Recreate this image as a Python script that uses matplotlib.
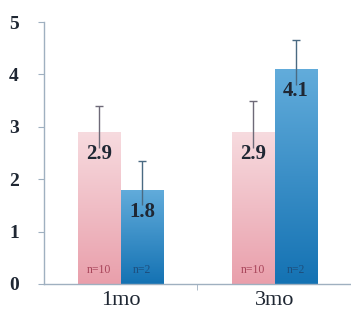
import numpy as np
import matplotlib
matplotlib.use("Agg")
import matplotlib.pyplot as plt
from matplotlib.colors import LinearSegmentedColormap

# Data
groups = ["1mo", "3mo"]
pink_vals = [2.9, 2.9]
blue_vals = [1.8, 4.1]
pink_err = [0.5, 0.6]
blue_err = [0.55, 0.55]
pink_n = ["n=10", "n=10"]
blue_n = ["n=2", "n=2"]
yticks = [0, 1, 2, 3, 4, 5]

plt.rcParams["font.family"] = ["Liberation Serif", "DejaVu Serif"]
text_col = "#1f2733"
spine_col = "#9fb0c0"

fig = plt.figure(figsize=(3.51, 3.29), dpi=100)
ax = fig.add_axes([0.125, 0.137, 0.875, 0.796])

x = np.arange(len(groups))
w = 0.275

pink_cmap = LinearSegmentedColormap.from_list("pk", ["#f7dbdf", "#e99fab"])
blue_cmap = LinearSegmentedColormap.from_list("bl", ["#62acdb", "#1472b3"])

bp = ax.bar(x - w / 2 - 0.003, pink_vals, w, color="#f0c0c7", zorder=2)
bb = ax.bar(x + w / 2 + 0.003, blue_vals, w, color="#3f93cc", zorder=2)

grad = np.linspace(0, 1, 256).reshape(-1, 1)
for bars, cmap in ((bp, pink_cmap), (bb, blue_cmap)):
    for b in bars:
        bx, by = b.get_x(), b.get_y()
        bw, bh = b.get_width(), b.get_height()
        im = ax.imshow(grad, cmap=cmap, aspect="auto", origin="upper",
                       extent=(bx, bx + bw, by, by + bh), zorder=2.5)
        im.set_clip_path(b)

# error bars: stem runs from inside the bar up to a capped top
for bars, vals, errs, ec in ((bp, pink_vals, pink_err, "#6e6a78"),
                              (bb, blue_vals, blue_err, "#4a6a82")):
    for b, v, e in zip(bars, vals, errs):
        cx = b.get_x() + b.get_width() / 2
        ax.vlines(cx, v - 0.3, v + e, color=ec, lw=1.0, zorder=4)
        ax.plot([cx], [v + e], marker="_", ms=6, mew=1.0, color=ec, zorder=4)

# value labels and sample sizes
for bars, vals, ns, ncol in ((bp, pink_vals, pink_n, "#a8455a"),
                              (bb, blue_vals, blue_n, "#1d4f7e")):
    for b, v, n in zip(bars, vals, ns):
        cx = b.get_x() + b.get_width() / 2
        ax.text(cx, v - 0.42, f"{v:.1f}", ha="center", va="center",
                fontsize=15, color=text_col, fontweight="bold", zorder=5)
        ax.text(cx, 0.27, n, ha="center", va="center", fontsize=8.5,
                color=ncol, zorder=5)

ax.set_xlim(-0.5, 1.5)
ax.set_ylim(0, 5)
ax.set_yticks(yticks)
ax.set_yticklabels([str(t) for t in yticks], fontsize=14,
                   fontweight="bold", color=text_col)
ax.set_xticks(x)
ax.set_xticklabels(groups, fontsize=16, color=text_col)
ax.set_xticks([0.5], minor=True)
ax.tick_params(axis="x", which="major", length=0, pad=5)
ax.tick_params(axis="x", which="minor", length=4, color=spine_col)
ax.tick_params(axis="y", length=4, color=spine_col, pad=14)

for s in ("top", "right"):
    ax.spines[s].set_visible(False)
for s in ("left", "bottom"):
    ax.spines[s].set_color(spine_col)
    ax.spines[s].set_linewidth(1.0)

fig.savefig("out.png", dpi=100)
